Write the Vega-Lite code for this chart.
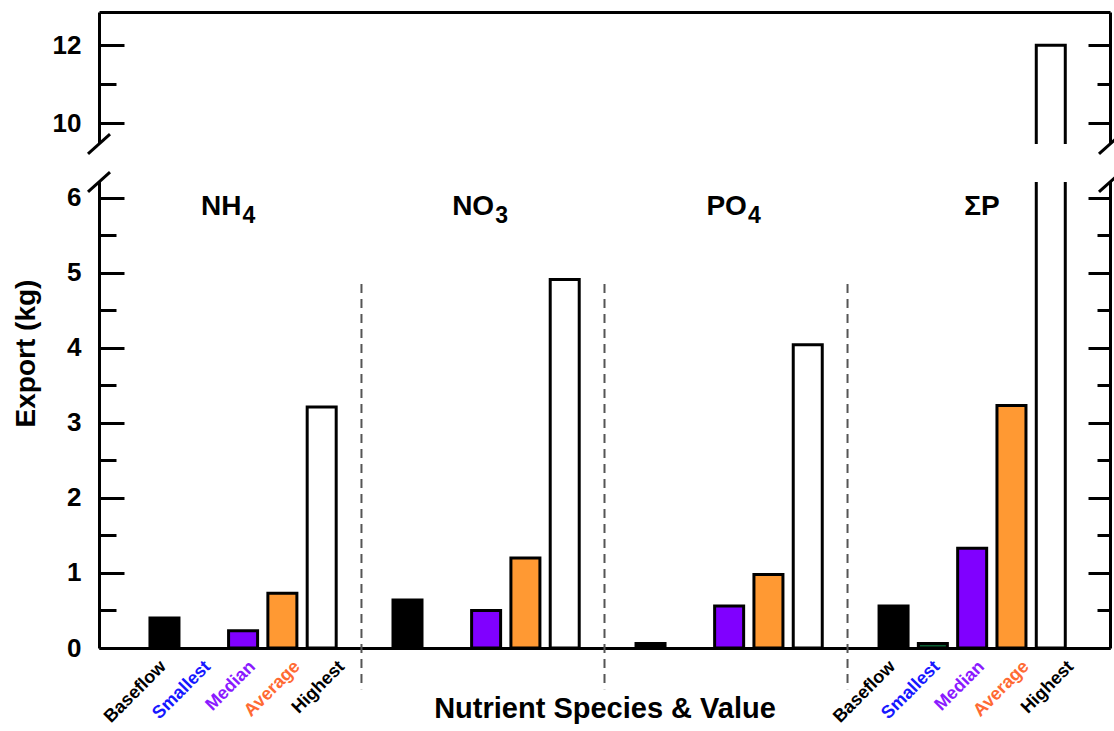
{
  "$schema": "https://vega.github.io/schema/vega-lite/v6.json",
  "width": 1011,
  "height": 636,
  "autosize": {"type": "none"},
  "padding": {"left": 99, "top": 12, "right": 4, "bottom": 83},
  "background": "white",
  "config": {"view": {"stroke": null}, "font": "Liberation Sans"},
  "data": {"values": [
    {"group": "NH₄", "category": "Baseflow", "export": 0.40},
    {"group": "NH₄", "category": "Smallest", "export": 0.0},
    {"group": "NH₄", "category": "Median", "export": 0.23},
    {"group": "NH₄", "category": "Average", "export": 0.73},
    {"group": "NH₄", "category": "Highest", "export": 3.21},
    {"group": "NO₃", "category": "Baseflow", "export": 0.64},
    {"group": "NO₃", "category": "Smallest", "export": 0.0},
    {"group": "NO₃", "category": "Median", "export": 0.50},
    {"group": "NO₃", "category": "Average", "export": 1.20},
    {"group": "NO₃", "category": "Highest", "export": 4.91},
    {"group": "PO₄", "category": "Baseflow", "export": 0.06},
    {"group": "PO₄", "category": "Smallest", "export": 0.0},
    {"group": "PO₄", "category": "Median", "export": 0.56},
    {"group": "PO₄", "category": "Average", "export": 0.98},
    {"group": "PO₄", "category": "Highest", "export": 4.04},
    {"group": "ΣP", "category": "Baseflow", "export": 0.56},
    {"group": "ΣP", "category": "Smallest", "export": 0.06},
    {"group": "ΣP", "category": "Median", "export": 1.33},
    {"group": "ΣP", "category": "Average", "export": 3.23},
    {"group": "ΣP", "category": "Highest", "export": 12.0}
  ]},
  "resolve": {
    "scale": {"x": "independent", "xOffset": "independent"},
    "axis": {"x": "independent", "y": "independent"}
  },
  "layer": [
    {
      "mark": {"type": "bar", "stroke": "black"},
      "encoding": {
        "x": {"field": "group", "type": "nominal",
          "scale": {"domain": ["NH₄", "NO₃", "PO₄", "ΣP"], "paddingInner": 0, "paddingOuter": 0.08},
          "axis": {"orient": "bottom", "domain": true, "domainColor": "black", "domainWidth": 3, "ticks": false, "labels": false, "grid": false,
            "title": "Nutrient Species & Value", "titleFontSize": 29, "titleFontWeight": "bold", "titleColor": "black", "titlePadding": 46, "zindex": 0}},
        "xOffset": {"field": "category", "type": "nominal",
          "scale": {"domain": ["Baseflow", "Smallest", "Median", "Average", "Highest"], "paddingInner": 0.262, "paddingOuter": 0.7226, "align": 0.555}},
        "y": {"field": "export", "type": "quantitative",
          "scale": {"domain": [0, 6.21, 9.47, 12.85], "range": [636, 170, 132, 0], "nice": false},
          "axis": {"orient": "left", "values": [0, 1, 2, 3, 4, 5, 6, 10, 12], "tickSize": -25, "tickWidth": 3, "tickColor": "black",
            "domain": true, "domainWidth": 3, "domainColor": "black", "labels": false, "grid": false, "title": null, "zindex": 0}},
        "fill": {"field": "category", "type": "nominal",
          "scale": {"domain": ["Baseflow", "Smallest", "Median", "Average", "Highest"], "range": ["#000000", "#0b5e33", "#8000ff", "#ff9933", "#ffffff"]},
          "legend": null},
        "strokeWidth": {"condition": {"test": "datum.export == 0", "value": 0}, "value": 3}
      }
    },
    {
      "data": {"values": [{}]},
      "mark": {"type": "rect", "fill": "white"},
      "encoding": {
        "x": {"datum": -0.02, "type": "quantitative", "scale": {"domain": [0, 1], "nice": false, "zero": false},
          "axis": {"orient": "top", "domain": true, "domainWidth": 3, "domainColor": "black", "ticks": false, "labels": false, "grid": false, "title": null, "zindex": 0}},
        "x2": {"datum": 1.02},
        "y": {"datum": 9.47, "type": "quantitative",
          "scale": {"domain": [0, 6.21, 9.47, 12.85], "range": [636, 170, 132, 0], "nice": false},
          "axis": {"orient": "left", "values": [0.5, 1.5, 2.5, 3.5, 4.5, 5.5, 11], "tickSize": -17, "tickWidth": 3, "tickColor": "black",
            "domain": false, "labels": false, "grid": false, "title": null, "zindex": 0}},
        "y2": {"datum": 6.21}
      }
    },
    {
      "data": {"values": [{}]},
      "mark": {"type": "point", "shape": "M-1,0.9L1,-0.9", "size": 484, "filled": false, "stroke": "black", "strokeWidth": 3, "opacity": 1},
      "encoding": {
        "x": {"datum": 0, "type": "quantitative", "scale": {"domain": [0, 1], "nice": false, "zero": false}, "axis": null},
        "y": {"datum": 9.47, "type": "quantitative",
          "scale": {"domain": [0, 6.21, 9.47, 12.85], "range": [636, 170, 132, 0], "nice": false},
          "axis": {"orient": "right", "values": [0, 1, 2, 3, 4, 5, 6, 10, 12], "tickSize": -22, "tickWidth": 3, "tickColor": "black",
            "domain": true, "domainWidth": 3, "domainColor": "black", "labels": false, "grid": false, "title": null, "zindex": 0}}
      }
    },
    {
      "data": {"values": [{}]},
      "mark": {"type": "point", "shape": "M-1,0.9L1,-0.9", "size": 484, "filled": false, "stroke": "black", "strokeWidth": 3, "opacity": 1},
      "encoding": {
        "x": {"datum": 0, "type": "quantitative", "scale": {"domain": [0, 1], "nice": false, "zero": false}, "axis": null},
        "y": {"datum": 6.21, "type": "quantitative",
          "scale": {"domain": [0, 6.21, 9.47, 12.85], "range": [636, 170, 132, 0], "nice": false},
          "axis": {"orient": "right", "values": [0.5, 1.5, 2.5, 3.5, 4.5, 5.5, 11], "tickSize": -13, "tickWidth": 3, "tickColor": "black",
            "domain": false, "labels": false, "grid": false, "title": null, "zindex": 0}}
      }
    },
    {
      "data": {"values": [{}]},
      "mark": {"type": "point", "shape": "M-1,0.9L1,-0.9", "size": 484, "filled": false, "stroke": "black", "strokeWidth": 3, "opacity": 1},
      "encoding": {
        "x": {"datum": 1, "type": "quantitative", "scale": {"domain": [0, 1], "nice": false, "zero": false}, "axis": null},
        "y": {"datum": 9.47, "type": "quantitative",
          "scale": {"domain": [0, 6.21, 9.47, 12.85], "range": [636, 170, 132, 0], "nice": false},
          "axis": {"orient": "left", "offset": 14, "values": [0, 1, 2, 3, 4, 5, 6, 10, 12], "ticks": false, "domain": false,
            "labelFontSize": 26, "labelFontWeight": "bold", "labelColor": "black", "labelAlign": "right", "labelPadding": 4, "labelOverlap": false, "grid": false,
            "title": "Export (kg)", "titleFontSize": 28, "titleFontWeight": "bold", "titleColor": "black", "titleX": -45, "titleY": 341, "zindex": 0}}
      }
    },
    {
      "data": {"values": [{}]},
      "mark": {"type": "point", "shape": "M-1,0.9L1,-0.9", "size": 484, "filled": false, "stroke": "black", "strokeWidth": 3, "opacity": 1},
      "encoding": {
        "x": {"datum": 1, "type": "quantitative", "scale": {"domain": [0, 1], "nice": false, "zero": false}, "axis": null},
        "y": {"datum": 6.21, "type": "quantitative",
          "scale": {"domain": [0, 6.21, 9.47, 12.85], "range": [636, 170, 132, 0], "nice": false}, "axis": null}
      }
    },
    {
      "data": {"values": [{"group": "NO₃"}, {"group": "PO₄"}, {"group": "ΣP"}]},
      "mark": {"type": "rule", "color": "#555555", "strokeWidth": 2, "strokeDash": [9, 6]},
      "encoding": {
        "x": {"field": "group", "type": "nominal", "bandPosition": 0,
          "scale": {"domain": ["NH₄", "NO₃", "PO₄", "ΣP"], "paddingInner": 0, "paddingOuter": 0.08}, "axis": null},
        "y": {"datum": 4.85, "type": "quantitative",
          "scale": {"domain": [0, 6.21, 9.47, 12.85], "range": [636, 170, 132, 0], "nice": false}, "axis": null},
        "y2": {"datum": -0.55}
      }
    },
    {
      "data": {"values": [
        {"group": "NH₄", "category": "Baseflow"},
        {"group": "NH₄", "category": "Smallest"},
        {"group": "NH₄", "category": "Median"},
        {"group": "NH₄", "category": "Average"},
        {"group": "NH₄", "category": "Highest"},
        {"group": "ΣP", "category": "Baseflow"},
        {"group": "ΣP", "category": "Smallest"},
        {"group": "ΣP", "category": "Median"},
        {"group": "ΣP", "category": "Average"},
        {"group": "ΣP", "category": "Highest"}
      ]},
      "mark": {"type": "text", "angle": 315, "align": "right", "baseline": "middle", "dx": 11, "dy": 2, "fontSize": 18, "fontWeight": "bold"},
      "encoding": {
        "x": {"field": "group", "type": "nominal",
          "scale": {"domain": ["NH₄", "NO₃", "PO₄", "ΣP"], "paddingInner": 0, "paddingOuter": 0.08}, "axis": null},
        "xOffset": {"field": "category", "type": "nominal",
          "scale": {"domain": ["Baseflow", "Smallest", "Median", "Average", "Highest"], "paddingInner": 0.262, "paddingOuter": 0.7226, "align": 0.555}},
        "y": {"datum": -0.30, "type": "quantitative",
          "scale": {"domain": [0, 6.21, 9.47, 12.85], "range": [636, 170, 132, 0], "nice": false}, "axis": null},
        "text": {"field": "category"},
        "color": {"field": "category", "type": "nominal",
          "scale": {"domain": ["Baseflow", "Smallest", "Median", "Average", "Highest"], "range": ["#000000", "#1717ff", "#8a1aff", "#ff6a33", "#000000"]},
          "legend": null}
      }
    },
    {
      "data": {"values": [
        {"group": "NH₄", "name": "NH", "sub": "4"},
        {"group": "NO₃", "name": "NO", "sub": "3"},
        {"group": "PO₄", "name": "PO", "sub": "4"},
        {"group": "ΣP", "name": "ΣP", "sub": ""}
      ]},
      "layer": [
        {
          "mark": {"type": "text", "fontSize": 28, "fontWeight": "bold", "baseline": "alphabetic", "align": "right", "dx": 16, "color": "black"},
          "encoding": {
            "x": {"field": "group", "type": "nominal",
              "scale": {"domain": ["NH₄", "NO₃", "PO₄", "ΣP"], "paddingInner": 0, "paddingOuter": 0.08}, "axis": null},
            "y": {"datum": 5.77, "type": "quantitative",
              "scale": {"domain": [0, 6.21, 9.47, 12.85], "range": [636, 170, 132, 0], "nice": false}, "axis": null},
            "text": {"field": "name"}
          }
        },
        {
          "mark": {"type": "text", "fontSize": 23, "fontWeight": "bold", "baseline": "alphabetic", "align": "left", "dx": 17, "dy": 8, "color": "black"},
          "encoding": {
            "x": {"field": "group", "type": "nominal",
              "scale": {"domain": ["NH₄", "NO₃", "PO₄", "ΣP"], "paddingInner": 0, "paddingOuter": 0.08}, "axis": null},
            "y": {"datum": 5.77, "type": "quantitative",
              "scale": {"domain": [0, 6.21, 9.47, 12.85], "range": [636, 170, 132, 0], "nice": false}, "axis": null},
            "text": {"field": "sub"}
          }
        }
      ]
    }
  ]
}
